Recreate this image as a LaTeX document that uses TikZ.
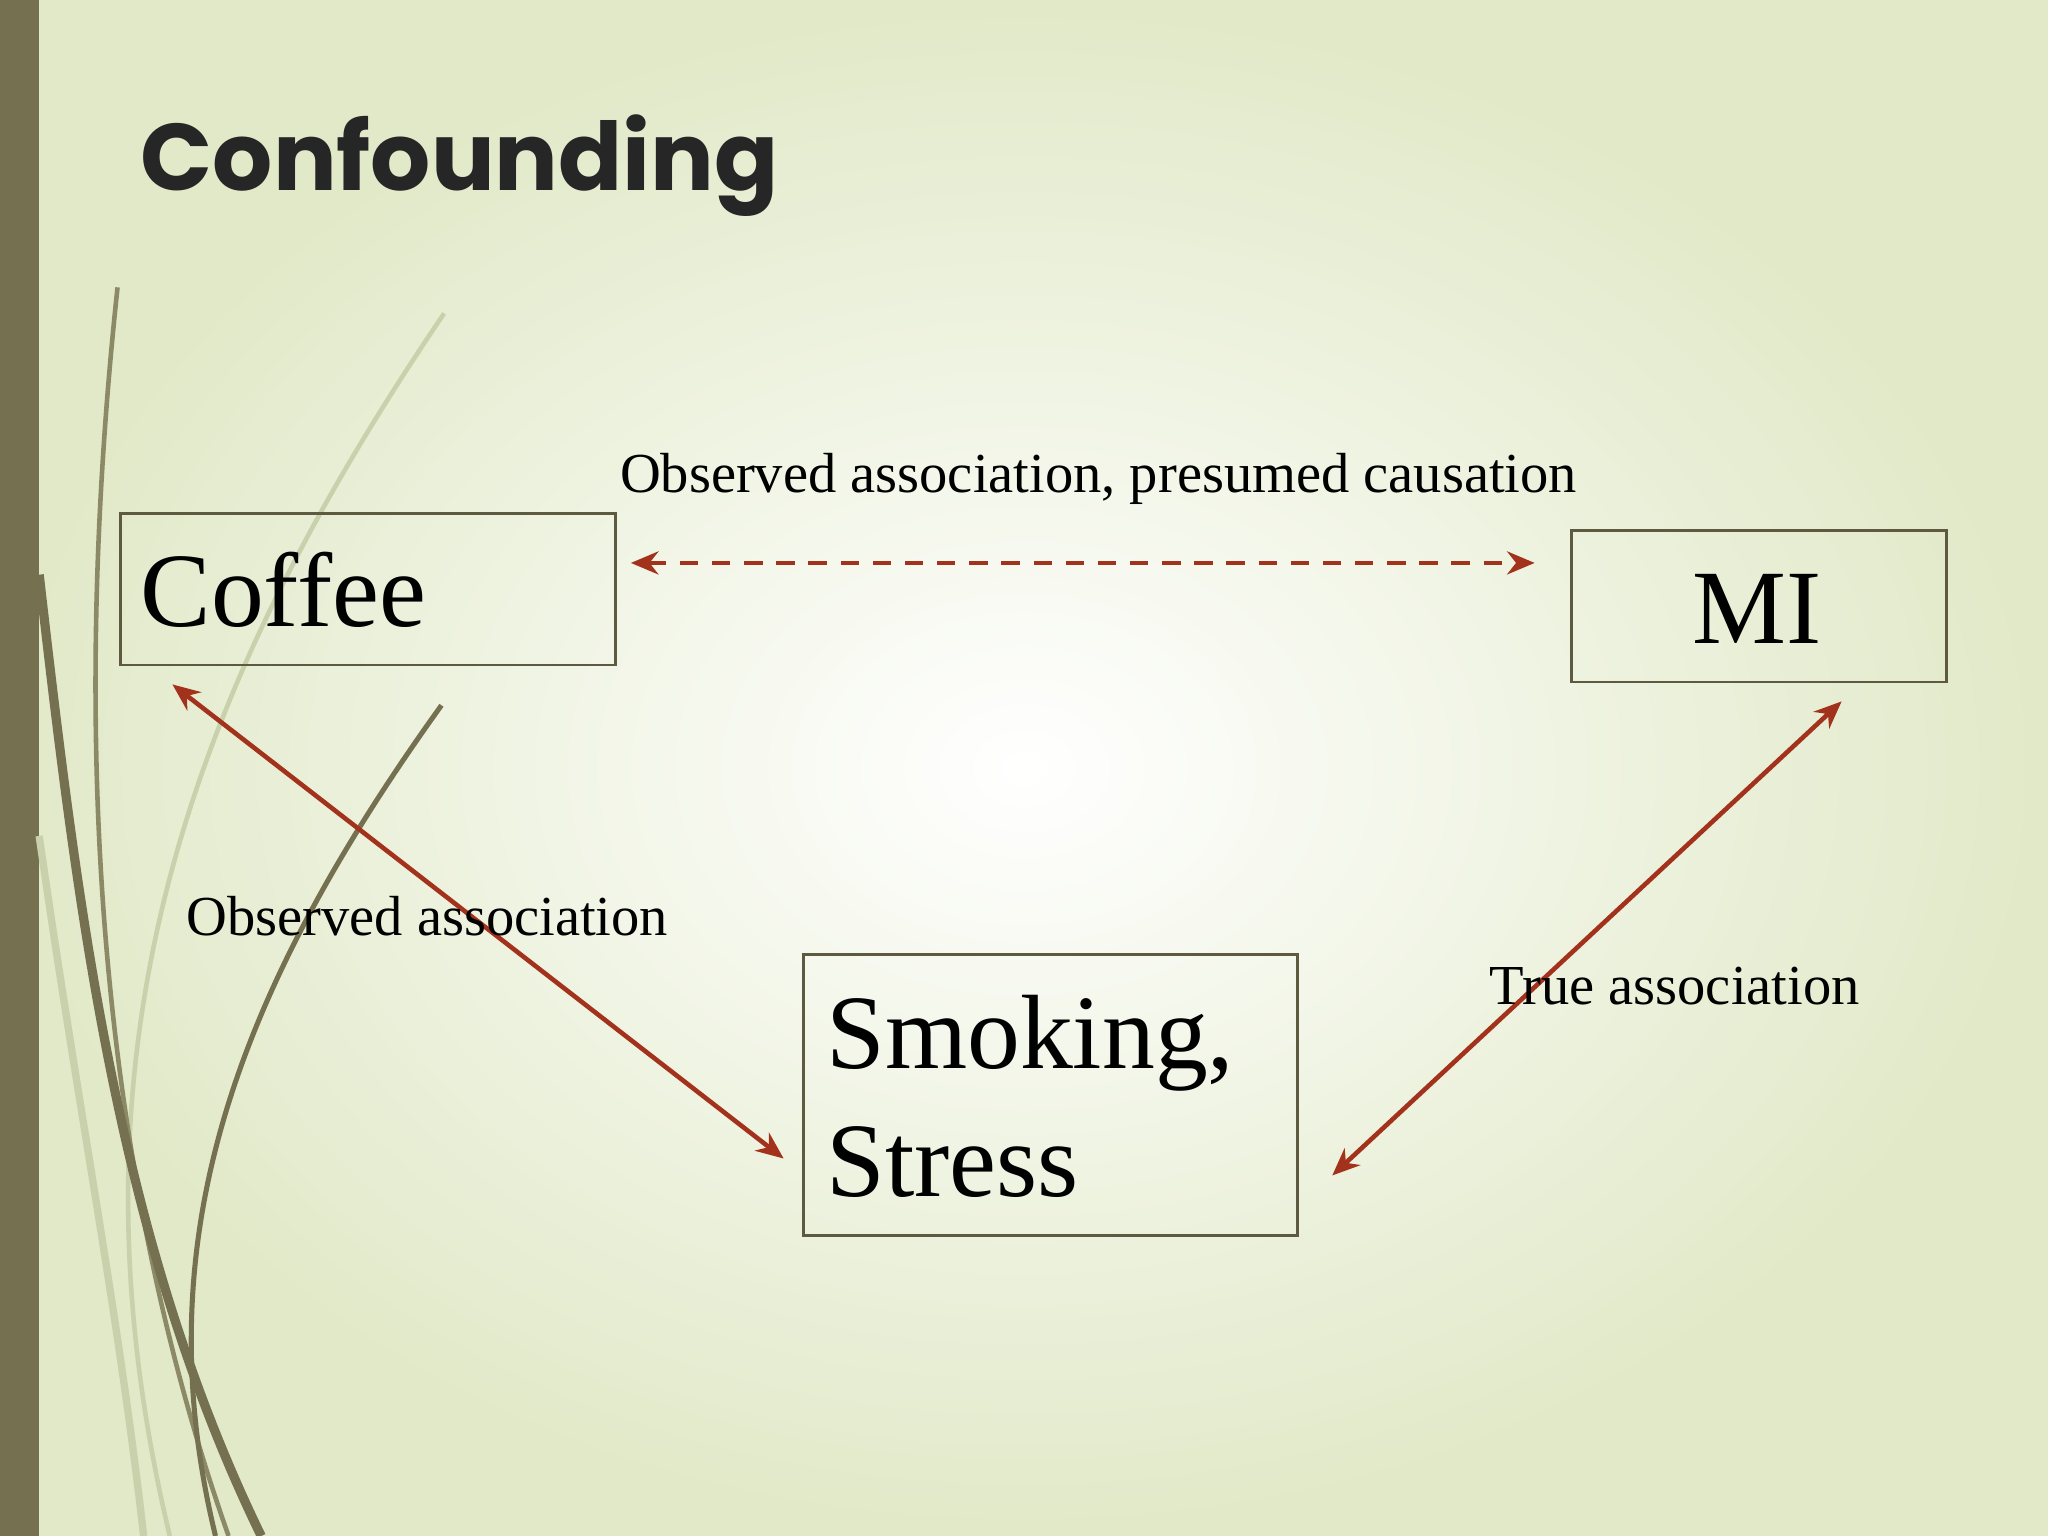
\documentclass[tikz,border=0pt]{standalone}
\usepackage{fontspec}
\setmainfont{Liberation Serif}
\newfontfamily\titlefont{Poppins}
\usetikzlibrary{arrows.meta}
\definecolor{olive}{HTML}{75704F}
\definecolor{bgout}{HTML}{E1E9C8}
\definecolor{arr}{HTML}{A3321C}
\definecolor{curveA}{HTML}{8C8A66}
\definecolor{curveL}{HTML}{C9D0AC}
\tikzset{
  box/.style={draw=olive!80!black, line width=0.6pt, inner sep=0pt},
  big/.style={font=\fontsize{23}{27}\selectfont},
  lbl/.style={font=\fontsize{12.3}{14}\selectfont, anchor=base west, inner sep=0pt},
  conn/.style={draw=arr, line width=1pt, {Stealth[length=6pt,width=5pt]}-{Stealth[length=6pt,width=5pt]}},
}
\begin{document}
\begin{tikzpicture}[x=0.01cm,y=-0.01cm]
\useasboundingbox (0,0) rectangle (1568,1176);
\shade[inner color=white, outer color=bgout] (0,0) rectangle (1568,1176);
\fill[olive] (0,0) rectangle (30,1176);
% decorative curves
\draw[curveL, line width=1pt] (340,240) .. controls (150,520) and (40,800) .. (130,1176);
\draw[curveL, line width=1.6pt] (30,640) .. controls (60,850) and (90,1000) .. (110,1176);
\draw[curveA, line width=1pt] (90,220) .. controls (60,500) and (60,850) .. (175,1176);
\draw[olive, line width=2pt] (30,440) .. controls (60,700) and (90,950) .. (200,1176);
\draw[olive, line width=1.1pt] (338,540) .. controls (180,760) and (110,950) .. (165,1176);
% title
\node[anchor=base west, inner sep=0pt, text=black!85, font=\titlefont\bfseries\fontsize{20.6}{24}\selectfont] (title) at (107,146) {Confounding};
% boxes
\node[box, anchor=north west, minimum width=3.79cm, minimum height=1.16cm] (coffee) at (91,392) {};
\node[big, anchor=base west, inner sep=0pt] (coffeet) at (107,480) {Coffee};
\node[box, anchor=north west, minimum width=2.87cm, minimum height=1.16cm] (mi) at (1202,405) {};
\node[big, anchor=base, inner sep=0pt] (mit) at (1345,493) {MI};
\node[box, anchor=north west, minimum width=3.78cm, minimum height=2.15cm] (smk) at (614,730) {};
\node[big, anchor=base west, inner sep=0pt] (smk1) at (632,818) {Smoking,};
\node[big, anchor=base west, inner sep=0pt] (smk2) at (632,916) {Stress};
% connectors
\coordinate (d1) at (483,431); \coordinate (d2) at (1175,431);
\draw[conn, dash pattern=on 4pt off 3pt] (d1) -- (d2);
\coordinate (c1) at (132,524); \coordinate (c2) at (600,887);
\draw[conn] (c1) -- (c2);
\coordinate (m1) at (1410,537); \coordinate (m2) at (1020,900);
\draw[conn] (m1) -- (m2);
% labels
\node[lbl] (l1) at (474,377) {Observed association, presumed causation};
\node[lbl] (l2) at (142,716) {Observed association};
\node[lbl] (l3) at (1140,769) {True association};
\end{tikzpicture}
\end{document}
